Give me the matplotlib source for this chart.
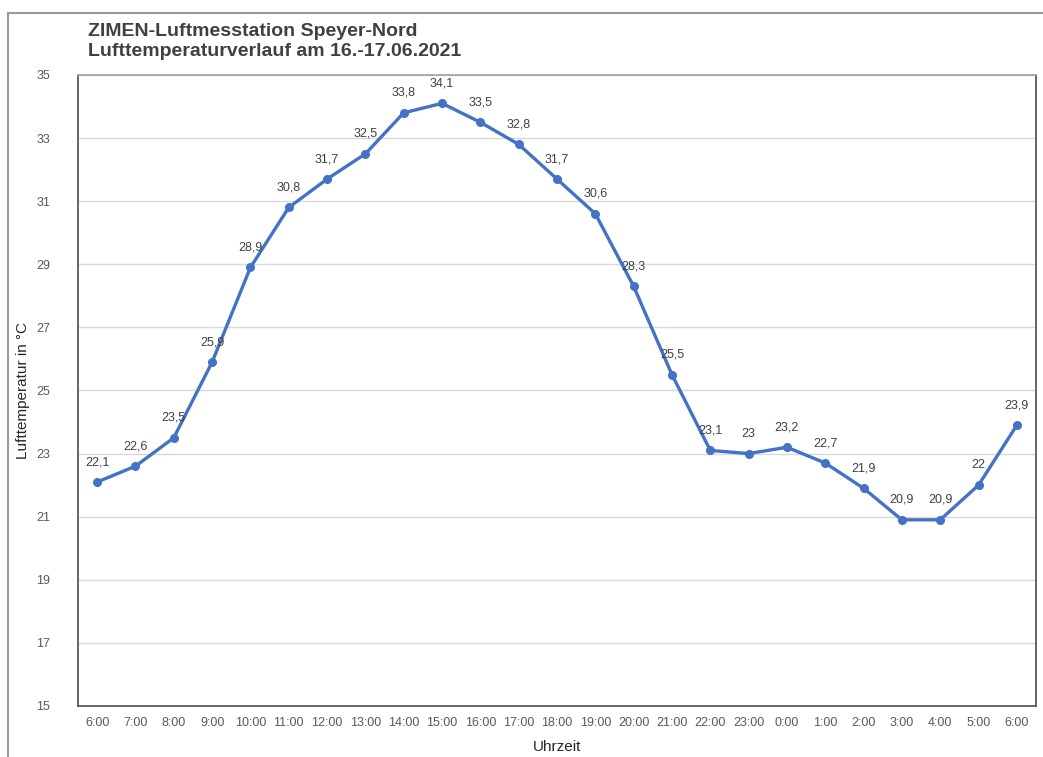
import matplotlib
matplotlib.use("Agg")
from matplotlib import pyplot as plt
from matplotlib.lines import Line2D

plt.rcParams['font.family'] = ['Liberation Sans', 'DejaVu Sans']

hours = ["6:00", "7:00", "8:00", "9:00", "10:00", "11:00", "12:00", "13:00",
         "14:00", "15:00", "16:00", "17:00", "18:00", "19:00", "20:00", "21:00",
         "22:00", "23:00", "0:00", "1:00", "2:00", "3:00", "4:00", "5:00", "6:00"]
temps = [22.1, 22.6, 23.5, 25.9, 28.9, 30.8, 31.7, 32.5, 33.8, 34.1, 33.5, 32.8,
         31.7, 30.6, 28.3, 25.5, 23.1, 23.0, 23.2, 22.7, 21.9, 20.9, 20.9, 22.0, 23.9]
y_ticks = list(range(15, 36, 2))

fig = plt.figure(figsize=(10.43, 7.57), dpi=100)
ax = fig.add_axes([0.0748, 0.0674, 0.9185, 0.8336])

# outer chart frame
fig.add_artist(Line2D([8/1043, 8/1043], [0, 1 - 13/757], transform=fig.transFigure,
                      color='#9a9a9a', lw=1.5))
fig.add_artist(Line2D([8/1043, 1.0], [1 - 13/757, 1 - 13/757], transform=fig.transFigure,
                      color='#9a9a9a', lw=1.5))

x = list(range(len(temps)))
ax.plot(x, temps, color='#4472C4', lw=2.4, marker='o', markersize=5.5, zorder=3)

for xi, t in zip(x, temps):
    lab = ('%g' % t).replace('.', ',')
    ax.annotate(lab, (xi, t), xytext=(0, 10), textcoords='offset points',
                ha='center', va='bottom', fontsize=9, color='#404040', zorder=4)

ax.set_xlim(-0.5, 24.5)
ax.set_ylim(15, 35)
ax.set_yticks(y_ticks)
ax.set_xticks(x)
ax.set_xticklabels(hours)
ax.tick_params(axis='both', length=0, labelsize=9, colors='#595959')
ax.tick_params(axis='y', pad=20)
ax.tick_params(axis='x', pad=8)
ax.grid(axis='y', color='#d9d9d9', lw=1)
ax.set_axisbelow(True)

for s in ['left', 'bottom', 'right']:
    ax.spines[s].set_color('#595959')
    ax.spines[s].set_linewidth(1.3)
ax.spines['top'].set_color('#a6a6a6')
ax.spines['top'].set_linewidth(1.3)

ax.set_ylabel("Lufttemperatur in °C", fontsize=11, color='#262626')
ax.yaxis.set_label_coords(-48/958, 0.5)
ax.set_xlabel("Uhrzeit", fontsize=11, color='#262626', labelpad=8)

fig.text(88/1043, 1 - 31/757, "ZIMEN-Luftmesstation Speyer-Nord",
         fontsize=14, fontweight='bold', color='#404040', ha='left', va='center')
fig.text(88/1043, 1 - 51/757, "Lufttemperaturverlauf am 16.-17.06.2021",
         fontsize=14, fontweight='bold', color='#404040', ha='left', va='center')

fig.savefig('out.png', dpi=100, facecolor='white')
